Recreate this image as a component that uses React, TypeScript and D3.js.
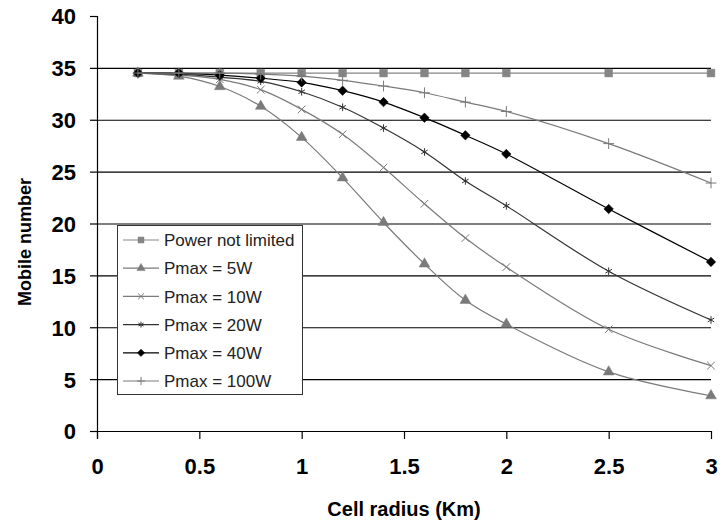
import React from 'react'
import * as d3 from 'd3'

const width = 720,
      height = 525,
      left = 97,
      right = 711,
      top = 16,
      bottom = 431

// cell radius (Km)
const radius = [0.2, 0.4, 0.6, 0.8, 1.0, 1.2, 1.4, 1.6, 1.8, 2.0, 2.5, 3.0]

const powerNotLimited = [34.5, 34.5, 34.5, 34.5, 34.5, 34.5, 34.5, 34.5, 34.5, 34.5, 34.5, 34.5]
const pmax5 = [34.5, 34.2, 33.2, 31.3, 28.3, 24.4, 20.1, 16.1, 12.6, 10.3, 5.7, 3.4]
const pmax10 = [34.5, 34.3, 33.9, 32.9, 31.0, 28.6, 25.4, 21.9, 18.6, 15.8, 9.8, 6.3]
const pmax20 = [34.5, 34.4, 34.1, 33.7, 32.7, 31.2, 29.2, 26.9, 24.1, 21.7, 15.4, 10.7]
const pmax40 = [34.5, 34.5, 34.3, 34.0, 33.6, 32.8, 31.7, 30.2, 28.5, 26.7, 21.4, 16.3]
const pmax100 = [34.5, 34.5, 34.5, 34.4, 34.2, 33.8, 33.25, 32.6, 31.7, 30.8, 27.7, 23.9]

const seriesNames = ['Power not limited', 'Pmax = 5W', 'Pmax = 10W', 'Pmax = 20W', 'Pmax = 40W', 'Pmax = 100W']

const xTicks = [0, 0.5, 1, 1.5, 2, 2.5, 3]
const yTicks = [0, 5, 10, 15, 20, 25, 30, 35, 40]

const font = '"Liberation Sans", Arial, sans-serif'

const xScale = d3.scaleLinear().domain([0, 3]).range([left, right])
const yScale = d3.scaleLinear().domain([0, 40]).range([bottom, top])

const line = d3.line<number>()
  .x((d, i) => xScale(radius[i]))
  .y(d => yScale(d))
  .curve(d3.curveCatmullRom.alpha(0.5))

// excel style diamond, as wide as it is tall
const squareDiamond = {
  draw (ctx: any, size: number) {
    const r = Math.sqrt(size / 2)
    ctx.moveTo(0, -r)
    ctx.lineTo(r, 0)
    ctx.lineTo(0, r)
    ctx.lineTo(-r, 0)
    ctx.closePath()
  }
}

// marker look per series
const series = [
  { name: seriesNames[0], values: powerNotLimited, color: '#858585', symbol: d3.symbolSquare, size: 60, filled: true },
  { name: seriesNames[1], values: pmax5, color: '#7a7a7a', symbol: d3.symbolTriangle, size: 50, filled: true },
  { name: seriesNames[2], values: pmax10, color: '#7a7a7a', symbol: d3.symbolTimes, size: 40, filled: false },
  { name: seriesNames[3], values: pmax20, color: '#333333', symbol: d3.symbolAsterisk, size: 40, filled: false },
  { name: seriesNames[4], values: pmax40, color: '#000000', symbol: squareDiamond, size: 45, filled: true },
  { name: seriesNames[5], values: pmax100, color: '#7a7a7a', symbol: d3.symbolPlus, size: 40, filled: false }
]

const Marker = ({ s, x, y, k = 1 }: any) => {
  const d = d3.symbol().type(s.symbol).size(s.size * k)() as string
  return (
    <path
      d={d}
      transform={`translate(${x}, ${y})`}
      fill={s.filled ? s.color : 'none'}
      stroke={s.color}
      strokeWidth={s.filled ? 0.5 : 1}
    />
  )
}

const App = () => {
  const legendX = 117.5,
        legendY = 225.5,
        legendW = 185,
        legendH = 169,
        rowGap = 28.2

  return (
    <svg width={width} height={height} style={{ position: 'absolute', left: 0, top: 0, background: '#fff' }}>
      {/* horizontal gridlines */}
      <g id="grid">
        {yTicks.filter(d => d > 0 && d < 40).map(d => (
          <line key={d} x1={left} x2={right} y1={yScale(d) + 0.5} y2={yScale(d) + 0.5} stroke="#000" strokeWidth={1.2} />
        ))}
      </g>

      {/* y axis */}
      <g id="yAxis">
        <line x1={left + 0.5} x2={left + 0.5} y1={top} y2={bottom + 8} stroke="#000" strokeWidth={1.2} />
        {yTicks.map(d => (
          <g key={d} transform={`translate(${left}, ${yScale(d) + 0.5})`}>
            <line x1={-7} x2={0} y1={0} y2={0} stroke="#000" strokeWidth={1.2} />
            <text x={-21} dy="0.36em" textAnchor="end" fontFamily={font} fontWeight="bold" fontSize={22}>{d}</text>
          </g>
        ))}
        <text transform={`translate(31, 242) rotate(-90)`} textAnchor="middle" fontFamily={font} fontWeight="bold" fontSize={18}>Mobile number</text>
      </g>

      {/* x axis */}
      <g id="xAxis">
        <line x1={left} x2={right} y1={bottom + 0.5} y2={bottom + 0.5} stroke="#000" strokeWidth={1.2} />
        {xTicks.map(d => (
          <g key={d} transform={`translate(${xScale(d) + 0.5}, ${bottom})`}>
            <line x1={0} x2={0} y1={0} y2={8} stroke="#000" strokeWidth={1.2} />
            <text y={43} textAnchor="middle" fontFamily={font} fontWeight="bold" fontSize={22}>{d}</text>
          </g>
        ))}
        <text x={404} y={516} textAnchor="middle" fontFamily={font} fontWeight="bold" fontSize={20}>Cell radius (Km)</text>
      </g>

      {/* series */}
      {series.map(s => (
        <g key={s.name}>
          <path d={line(s.values) as string} fill="none" stroke={s.color} strokeWidth={1.2} />
          {s.values.map((v, i) => (
            <Marker key={i} s={s} x={xScale(radius[i])} y={yScale(v)} />
          ))}
        </g>
      ))}

      {/* legend */}
      <g id="legend">
        <rect x={legendX} y={legendY} width={legendW} height={legendH} fill="#fff" stroke="#333" strokeWidth={1} />
        {series.map((s, i) => {
          const cy = 240 + i * rowGap
          return (
            <g key={s.name}>
              <line x1={123} x2={159} y1={cy} y2={cy} stroke={s.color} strokeWidth={1.2} />
              <Marker s={s} x={141} y={cy} k={0.6} />
              <text x={164} y={cy} dy="0.36em" fontFamily={font} fontSize={17} fill="#222">{s.name}</text>
            </g>
          )
        })}
      </g>
    </svg>
  )
}

export default App
